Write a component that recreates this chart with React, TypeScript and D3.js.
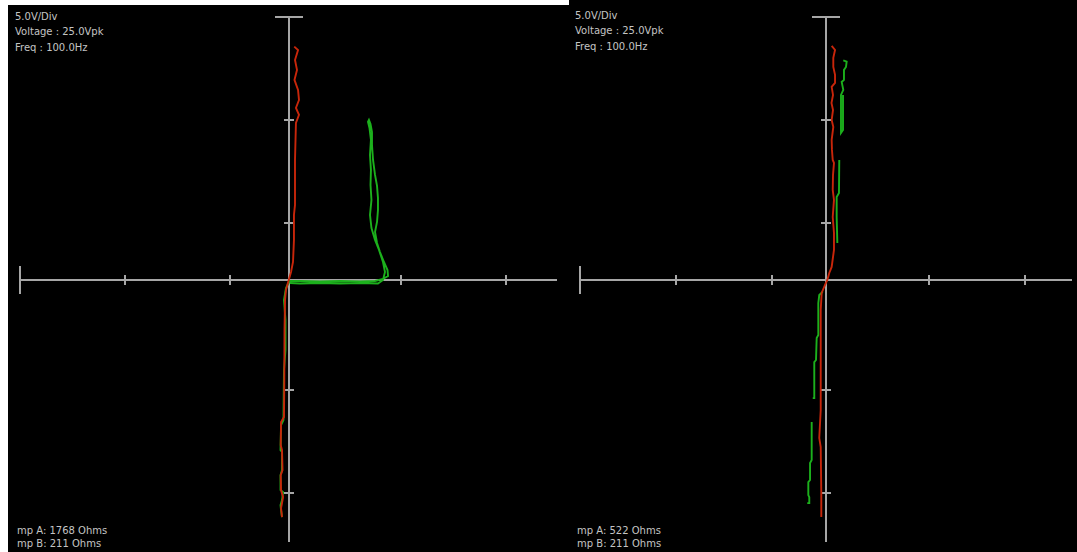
import React from 'react';
import * as d3 from 'd3';

type Pt = [number, number];

// Axis domain in divisions (horizontal: voltage, vertical: current)
const X_DOMAIN: [number, number] = [-2.56, 2.56];
const Y_DOMAIN: [number, number] = [2.55, -2.55];
const xTicks = [-1.56, -0.56, 1.07, 2.07];
const yTicks = [1.55, 0.55, -1.07, -2.07];

const leftHeader = ['5.0V/Div', 'Voltage : 25.0Vpk', 'Freq : 100.0Hz'];
const rightHeader = ['5.0V/Div', 'Voltage : 25.0Vpk', 'Freq : 100.0Hz'];
const leftFooter = ['mp A: 1768 Ohms', 'mp B: 211 Ohms'];
const rightFooter = ['mp A: 522 Ohms', 'mp B: 211 Ohms'];

const leftRed: Pt[] = [
  [0.055, 2.262], [0.091, 2.23], [0.062, 2.133], [0.081, 2.036], [0.057, 1.939],
  [0.091, 1.842], [0.1, 1.744], [0.071, 1.667], [0.1, 1.599], [0.071, 1.521],
  [0.062, 1.161], [0.062, 0.724], [0.052, 0.627], [0.052, 0.384], [0.043, 0.17],
  [0.024, 0.073], [0.005, 0.005], [-0.024, -0.102], [-0.033, -0.199], [-0.038, -0.491],
  [-0.04, -0.977], [-0.043, -1.336], [-0.071, -1.385], [-0.074, -1.608], [-0.062, -1.657],
  [-0.057, -1.851], [-0.074, -1.9], [-0.071, -2.046], [-0.052, -2.114], [-0.062, -2.172],
  [-0.071, -2.221], [-0.062, -2.308],
];

const leftGreenLower: Pt[] = [
  [0.01, -0.015], [-0.024, -0.083], [-0.043, -0.199], [-0.029, -0.394], [-0.029, -0.685],
  [-0.043, -0.879], [-0.048, -1.365], [-0.071, -1.414], [-0.076, -1.657], [-0.062, -1.676],
  [-0.062, -1.851], [-0.076, -1.9], [-0.076, -2.046], [-0.052, -2.065], [-0.062, -2.143],
  [-0.076, -2.191], [-0.071, -2.24], [-0.062, -2.308],
];

const leftGreenLoop: Pt[] = [
  [0.005, -0.015], [0.11, -0.015], [0.3, -0.019], [0.491, -0.015], [0.682, -0.019],
  [0.825, -0.015], [0.901, 0.005], [0.949, 0.034], [0.944, 0.092], [0.91, 0.17],
  [0.872, 0.267], [0.844, 0.355], [0.825, 0.462], [0.844, 0.559], [0.853, 0.675],
  [0.853, 0.792], [0.844, 0.909], [0.825, 1.016], [0.806, 1.161], [0.796, 1.307],
  [0.796, 1.433], [0.782, 1.511], [0.767, 1.55], [0.758, 1.531], [0.772, 1.472],
  [0.786, 1.356], [0.777, 1.21], [0.786, 1.064], [0.782, 0.918], [0.791, 0.773],
  [0.777, 0.627], [0.791, 0.5], [0.825, 0.384], [0.863, 0.287], [0.901, 0.17],
  [0.92, 0.073], [0.901, -0.005], [0.853, -0.039], [0.682, -0.034], [0.491, -0.039],
  [0.3, -0.034], [0.11, -0.039], [0.014, -0.034],
];

const rightRed: Pt[] = [
  [0.059, 2.269], [0.094, 2.23], [0.076, 2.153], [0.076, 2.065], [0.094, 1.988],
  [0.094, 1.91], [0.059, 1.871], [0.073, 1.793], [0.057, 1.715], [0.073, 1.647],
  [0.059, 1.55], [0.076, 1.482], [0.059, 1.356], [0.062, 1.259], [0.07, 1.161],
  [0.083, 1.132], [0.073, 1.016], [0.07, 0.87], [0.083, 0.773], [0.07, 0.607],
  [0.083, 0.452], [0.083, 0.287], [0.059, 0.122], [0.034, 0.063], [0.014, -0.005],
  [-0.01, -0.053], [-0.045, -0.131], [-0.055, -0.296], [-0.055, -0.782], [-0.055, -1.268],
  [-0.07, -1.54], [-0.055, -1.628], [-0.049, -2.075], [-0.049, -2.308],
];

const rightGreen: Pt[][] = [
  [[0.18, 2.128], [0.215, 2.117], [0.208, 2.065], [0.187, 2.036], [0.187, 1.939],
   [0.163, 1.919], [0.18, 1.842], [0.156, 1.793], [0.156, 1.424], [0.177, 1.453], [0.177, 1.793]],
  [[0.138, 1.161], [0.135, 0.841], [0.111, 0.802], [0.111, 0.607], [0.118, 0.355]],
  [[-0.034, -0.119], [-0.07, -0.151], [-0.08, -0.228], [-0.08, -0.539], [-0.097, -0.569],
   [-0.104, -0.782], [-0.122, -0.802], [-0.122, -1.152], [-0.138, -1.152]],
  [[-0.149, -1.385], [-0.149, -1.754], [-0.166, -1.783], [-0.166, -1.948], [-0.184, -1.968],
   [-0.184, -2.094], [-0.174, -2.114], [-0.174, -2.172], [-0.195, -2.172]],
];

const AXIS = '#a6a6a6';
const RED = '#c8260a';
const GREEN = '#1cb01c';
const TEXT = '#c4c4c4';

interface PanelProps {
  rect: [number, number, number, number];
  xr: [number, number];
  yr: [number, number];
  header: string[];
  headerX: number;
  headerY: number;
  footer: string[];
  footerX: number;
  greens: Pt[][];
  reds: Pt[][];
}

function Panel(p: PanelProps) {
  const x = d3.scaleLinear().domain(X_DOMAIN).range(p.xr);
  const y = d3.scaleLinear().domain(Y_DOMAIN).range(p.yr);
  const line = d3.line<Pt>().x((d) => x(d[0])).y((d) => y(d[1]));
  const x0 = Math.round(x(0));
  const y0 = Math.round(y(0));
  const xl = x(X_DOMAIN[0]);
  const xh = x(X_DOMAIN[1]);
  const yt = y(Y_DOMAIN[0]);
  const yb = y(Y_DOMAIN[1]);
  const font = { fontFamily: 'DejaVu Sans', fontSize: 10, fill: TEXT } as const;
  return (
    <g>
      <rect x={p.rect[0]} y={p.rect[1]} width={p.rect[2]} height={p.rect[3]} fill="#000" />
      <g stroke={AXIS} strokeWidth={2} fill="none" shapeRendering="crispEdges">
        <line x1={xl} x2={xh} y1={y0} y2={y0} />
        <line x1={xl} x2={xl} y1={y0 - 14} y2={y0 + 14} />
        {xTicks.map((t) => (
          <line key={'x' + t} x1={Math.round(x(t))} x2={Math.round(x(t))} y1={y0 - 5} y2={y0 + 5} />
        ))}
        <line x1={x0} x2={x0} y1={yt} y2={yb} />
        <line x1={x0 - 14} x2={x0 + 14} y1={yt} y2={yt} />
        {yTicks.map((t) => (
          <line key={'y' + t} x1={x0 - 5} x2={x0 + 5} y1={Math.round(y(t))} y2={Math.round(y(t))} />
        ))}
      </g>
      <g fill="none" strokeWidth={1.9} strokeLinejoin="miter">
        {p.greens.map((g, i) => (
          <path key={'g' + i} d={line(g) || ''} stroke={GREEN} />
        ))}
        {p.reds.map((r, i) => (
          <path key={'r' + i} d={line(r) || ''} stroke={RED} />
        ))}
      </g>
      {p.header.map((t, i) => (
        <text key={'h' + i} x={p.headerX} y={p.headerY + i * 15.5} style={font}>{t}</text>
      ))}
      {p.footer.map((t, i) => (
        <text key={'f' + i} x={p.footerX} y={533.5 + i * 13} style={font}>{t}</text>
      ))}
    </g>
  );
}

export default function App() {
  return (
    <svg
      width={1077}
      height={552}
      style={{ position: 'absolute', left: 0, top: 0, display: 'block', background: '#fff' }}
    >
      <Panel
        rect={[8, 5, 561, 547]}
        xr={[20, 557]}
        yr={[17, 542]}
        header={leftHeader}
        headerX={15}
        headerY={19.5}
        footer={leftFooter}
        footerX={17}
        greens={[leftGreenLoop, leftGreenLower]}
        reds={[leftRed]}
      />
      <Panel
        rect={[569, 0, 508, 552]}
        xr={[580, 1072]}
        yr={[17, 542]}
        header={rightHeader}
        headerX={575}
        headerY={18.5}
        footer={rightFooter}
        footerX={577}
        greens={rightGreen}
        reds={[rightRed]}
      />
    </svg>
  );
}
